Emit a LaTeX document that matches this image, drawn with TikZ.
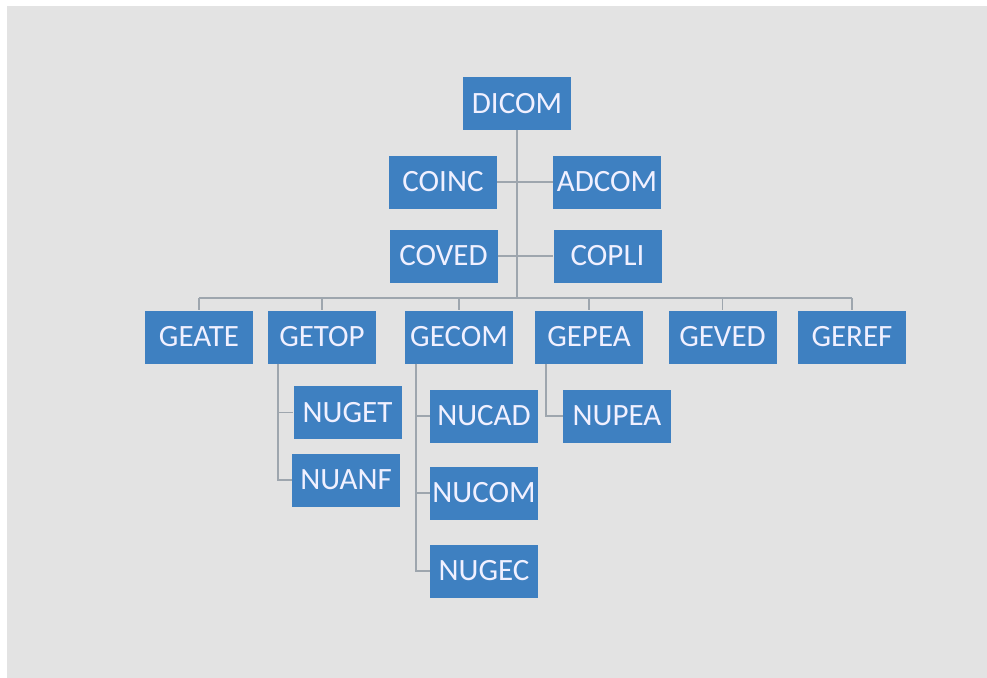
\documentclass[tikz,border=0pt]{standalone}
\usepackage{fontspec}
\setmainfont{Carlito}
\definecolor{boxblue}{RGB}{62,128,193}
\definecolor{linegray}{RGB}{158,166,174}
\definecolor{bggray}{RGB}{227,227,227}
\tikzset{
  unit/.style={fill=boxblue,text=white!94!blue,minimum width=108pt,minimum height=53pt,inner sep=0pt,font=\fontsize{31}{32}\selectfont},
  link/.style={draw=linegray,line width=1.6pt}
}
\begin{document}
\begin{tikzpicture}[x=1pt,y=-1pt]
\useasboundingbox (0,0) rectangle (987,677);
\fill[white] (0,0) rectangle (987,677);
\fill[bggray] (7,6) rectangle (990,680);
% top
\node[unit] (dicom) at (517,103.5) {DICOM};
\node[unit] (coinc) at (443,182) {COINC};
\node[unit] (adcom) at (607,182) {ADCOM};
\node[unit] (coved) at (443.5,256) {COVED};
\node[unit] (copli) at (607.5,256) {COPLI};
\coordinate (bus) at (517,298);
% managers
\node[unit] (geate) at (199,337) {GEATE};
\node[unit] (getop) at (322,337) {GETOP};
\node[unit] (gecom) at (459,337) {GECOM};
\node[unit] (gepea) at (589,337) {GEPEA};
\node[unit] (geved) at (722.5,337) {GEVED};
\node[unit] (geref) at (852,337) {GEREF};
% units
\node[unit] (nuget) at (347.5,412.5) {NUGET};
\node[unit] (nuanf) at (346,480) {NUANF};
\node[unit] (nucad) at (484,416) {NUCAD};
\node[unit] (nucom) at (484,493) {NUCOM};
\node[unit] (nugec) at (484,571) {NUGEC};
\node[unit] (nupea) at (617,416) {NUPEA};
% links
\draw[link] (dicom.south) -- (bus);
\draw[link] (coinc.east) -- (adcom.west);
\draw[link] (coved.east) -- (copli.west);
\draw[link] (bus -| geate) -- (bus -| geref);
\foreach \g in {geate,getop,gecom,gepea,geved,geref}
  \draw[link] (bus -| \g) -- (\g.north);
\draw[link] ([xshift=-44pt]getop.south) |- (nuget.west);
\draw[link] ([xshift=-44pt]getop.south) |- (nuanf.west);
\draw[link] ([xshift=-43pt]gecom.south) |- (nucad.west);
\draw[link] ([xshift=-43pt]gecom.south) |- (nucom.west);
\draw[link] ([xshift=-43pt]gecom.south) |- (nugec.west);
\draw[link] ([xshift=-43pt]gepea.south) |- (nupea.west);
\end{tikzpicture}
\end{document}
